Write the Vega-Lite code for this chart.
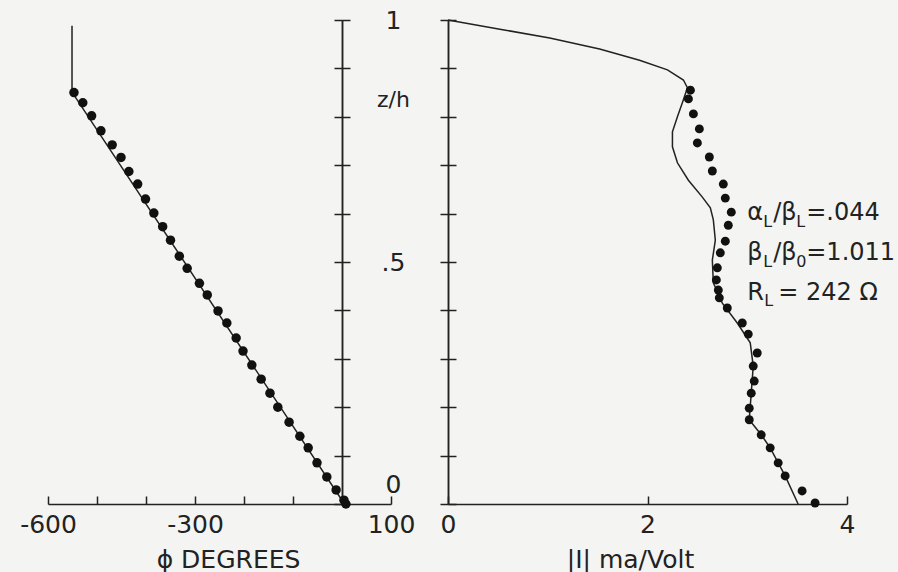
{
  "$schema": "https://vega.github.io/schema/vega-lite/v6.json",
  "background": "#f4f4f2",
  "padding": {"left": 19, "top": 8, "right": 5, "bottom": 5},
  "spacing": 57,
  "bounds": "flush",
  "config": {
    "view": {"stroke": null},
    "font": "DejaVu Sans",
    "axis": {
      "grid": false,
      "domainColor": "#222",
      "tickColor": "#222",
      "labelColor": "#222",
      "titleColor": "#222",
      "domainWidth": 1.5,
      "tickWidth": 1.5,
      "labelFont": "DejaVu Sans",
      "labelFontSize": 25,
      "titleFont": "DejaVu Sans",
      "titleFontSize": 25,
      "titleFontWeight": "normal",
      "labelOverlap": false,
      "labelFlush": false
    },
    "text": {"font": "DejaVu Sans", "color": "#222"}
  },
  "datasets": {
    "phiCurve": [
      {"phi": -551, "z": 0.988},
      {"phi": -551, "z": 0.851},
      {"phi": 5, "z": 0.0}
    ],
    "phiDots": [
      {"phi": -547, "z": 0.850}, {"phi": -529, "z": 0.829}, {"phi": -511, "z": 0.802},
      {"phi": -492, "z": 0.771}, {"phi": -469, "z": 0.742}, {"phi": -451, "z": 0.716},
      {"phi": -435, "z": 0.687}, {"phi": -417, "z": 0.661}, {"phi": -401, "z": 0.630},
      {"phi": -384, "z": 0.601}, {"phi": -366, "z": 0.573}, {"phi": -350, "z": 0.545},
      {"phi": -332, "z": 0.512}, {"phi": -316, "z": 0.487}, {"phi": -291, "z": 0.456},
      {"phi": -275, "z": 0.432}, {"phi": -253, "z": 0.399}, {"phi": -235, "z": 0.374},
      {"phi": -216, "z": 0.343}, {"phi": -202, "z": 0.316}, {"phi": -184, "z": 0.287},
      {"phi": -165, "z": 0.258}, {"phi": -147, "z": 0.229}, {"phi": -131, "z": 0.200},
      {"phi": -108, "z": 0.169}, {"phi": -86, "z": 0.140}, {"phi": -69, "z": 0.116},
      {"phi": -51, "z": 0.085}, {"phi": -31, "z": 0.056}, {"phi": -12, "z": 0.029},
      {"phi": 4, "z": 0.008}, {"phi": 8, "z": 0.0}
    ],
    "iCurve": [
      {"I": 0.0, "z": 1.0}, {"I": 0.52, "z": 0.981}, {"I": 1.02, "z": 0.963},
      {"I": 1.52, "z": 0.940}, {"I": 1.92, "z": 0.917}, {"I": 2.20, "z": 0.897},
      {"I": 2.36, "z": 0.876}, {"I": 2.40, "z": 0.860}, {"I": 2.36, "z": 0.835},
      {"I": 2.30, "z": 0.800}, {"I": 2.25, "z": 0.769}, {"I": 2.25, "z": 0.738},
      {"I": 2.30, "z": 0.705}, {"I": 2.41, "z": 0.669}, {"I": 2.55, "z": 0.634},
      {"I": 2.63, "z": 0.612}, {"I": 2.66, "z": 0.587}, {"I": 2.68, "z": 0.545},
      {"I": 2.65, "z": 0.504}, {"I": 2.66, "z": 0.457}, {"I": 2.75, "z": 0.415},
      {"I": 2.90, "z": 0.374}, {"I": 3.03, "z": 0.333}, {"I": 3.06, "z": 0.285},
      {"I": 3.04, "z": 0.229}, {"I": 3.02, "z": 0.174}, {"I": 3.14, "z": 0.143},
      {"I": 3.23, "z": 0.116}, {"I": 3.38, "z": 0.058}, {"I": 3.51, "z": 0.0}
    ],
    "iDots": [
      {"I": 2.43, "z": 0.855}, {"I": 2.41, "z": 0.837}, {"I": 2.46, "z": 0.806},
      {"I": 2.52, "z": 0.775}, {"I": 2.50, "z": 0.746}, {"I": 2.62, "z": 0.717},
      {"I": 2.65, "z": 0.688}, {"I": 2.76, "z": 0.661}, {"I": 2.78, "z": 0.632},
      {"I": 2.84, "z": 0.603}, {"I": 2.81, "z": 0.576}, {"I": 2.78, "z": 0.543},
      {"I": 2.73, "z": 0.519}, {"I": 2.70, "z": 0.488}, {"I": 2.69, "z": 0.463},
      {"I": 2.71, "z": 0.442}, {"I": 2.72, "z": 0.426}, {"I": 2.80, "z": 0.405},
      {"I": 2.95, "z": 0.374}, {"I": 3.01, "z": 0.351}, {"I": 3.10, "z": 0.312},
      {"I": 3.06, "z": 0.285}, {"I": 3.07, "z": 0.254}, {"I": 3.04, "z": 0.229},
      {"I": 3.02, "z": 0.198}, {"I": 3.02, "z": 0.174}, {"I": 3.14, "z": 0.143},
      {"I": 3.23, "z": 0.116}, {"I": 3.31, "z": 0.085}, {"I": 3.38, "z": 0.058},
      {"I": 3.55, "z": 0.027}, {"I": 3.68, "z": 0.002}
    ]
  },
  "hconcat": [
    {
      "width": 343,
      "height": 484,
      "resolve": {"axis": {"y": "independent"}},
      "layer": [
        {
          "data": {"name": "phiCurve"},
          "mark": {"type": "line", "color": "#222", "strokeWidth": 1.5},
          "encoding": {
            "x": {
              "field": "phi", "type": "quantitative",
              "scale": {"domain": [-600, 100], "nice": false, "zero": false},
              "axis": {
                "orient": "bottom",
                "values": [-600, -500, -400, -300, -200, -100, 0, 100],
                "tickSize": -8,
                "labelPadding": 16,
                "labelExpr": "datum.value==-600?'-600':datum.value==-300?'-300':datum.value==100?'100':''",
                "title": "ϕ DEGREES",
                "titleX": 180,
                "titleAlign": "center",
                "titlePadding": 10
              }
            },
            "y": {
              "field": "z", "type": "quantitative",
              "scale": {"domain": [0, 1], "nice": false, "zero": false},
              "axis": {
                "orient": "right",
                "offset": -49,
                "values": [0, 0.1, 0.2, 0.3, 0.4, 0.5, 0.6, 0.7, 0.8, 0.9, 1],
                "tickSize": 8,
                "labelPadding": 43,
                "labelAlign": "center",
                "labelBaseline": "middle",
                "labelOffset": {"condition": {"test": "datum.value === 0", "value": -20}, "value": 0},
                "labelExpr": "datum.value==1?'1':datum.value==0.5?'.5':datum.value==0?'0':''",
                "title": "z/h",
                "titleAngle": 0,
                "titleX": 51,
                "titleY": 79,
                "titleAlign": "center",
                "titleBaseline": "middle",
                "titleFontSize": 22
              }
            },
            "order": {"field": "z"}
          }
        },
        {
          "data": {"name": "phiDots"},
          "mark": {"type": "point", "filled": true, "size": 90, "color": "#111", "opacity": 1},
          "encoding": {
            "x": {"field": "phi", "type": "quantitative"},
            "y": {
              "field": "z", "type": "quantitative",
              "axis": {
                "orient": "left",
                "offset": -294,
                "values": [0, 0.1, 0.2, 0.3, 0.4, 0.5, 0.6, 0.7, 0.8, 0.9, 1],
                "tickSize": 8,
                "labels": false,
                "title": null
              }
            }
          }
        }
      ]
    },
    {
      "width": 399,
      "height": 484,
      "resolve": {"axis": {"y": "independent"}},
      "layer": [
        {
          "data": {"name": "iCurve"},
          "mark": {"type": "line", "color": "#222", "strokeWidth": 1.5},
          "encoding": {
            "x": {
              "field": "I", "type": "quantitative",
              "scale": {"domain": [0, 4], "nice": false, "zero": false},
              "axis": {
                "orient": "bottom",
                "values": [0, 2, 4],
                "format": "d",
                "tickSize": -8,
                "labelPadding": 16,
                "title": "|I| ma/Volt",
                "titleX": 182,
                "titleAlign": "center",
                "titlePadding": 10
              }
            },
            "y": {
              "field": "z", "type": "quantitative",
              "scale": {"domain": [0, 1], "nice": false, "zero": false},
              "axis": {
                "orient": "left",
                "values": [0, 0.1, 0.2, 0.3, 0.4, 0.5, 0.6, 0.7, 0.8, 0.9, 1],
                "tickSize": 8,
                "labels": false,
                "title": null
              }
            },
            "order": {"field": "z"}
          }
        },
        {
          "data": {"name": "iDots"},
          "mark": {"type": "point", "filled": true, "size": 80, "color": "#111", "opacity": 1},
          "encoding": {
            "x": {"field": "I", "type": "quantitative"},
            "y": {
              "field": "z", "type": "quantitative",
              "axis": {
                "orient": "right",
                "offset": -399,
                "values": [0, 0.1, 0.2, 0.3, 0.4, 0.5, 0.6, 0.7, 0.8, 0.9, 1],
                "tickSize": 8,
                "labels": false,
                "title": null
              }
            }
          }
        },
        {
          "data": {"values": [{"t": "α"}]},
          "mark": {"type": "text", "align": "left", "baseline": "alphabetic", "fontSize": 24, "dx": 0},
          "encoding": {"x": {"datum": 3.0, "type": "quantitative"}, "y": {"datum": 0.587, "type": "quantitative", "axis": null}, "text": {"field": "t"}}
        },
        {
          "data": {"values": [{"t": "L"}]},
          "mark": {"type": "text", "align": "left", "baseline": "alphabetic", "fontSize": 16, "dx": 16, "dy": 7},
          "encoding": {"x": {"datum": 3.0, "type": "quantitative"}, "y": {"datum": 0.587, "type": "quantitative", "axis": null}, "text": {"field": "t"}}
        },
        {
          "data": {"values": [{"t": "/β"}]},
          "mark": {"type": "text", "align": "left", "baseline": "alphabetic", "fontSize": 24, "dx": 26},
          "encoding": {"x": {"datum": 3.0, "type": "quantitative"}, "y": {"datum": 0.587, "type": "quantitative", "axis": null}, "text": {"field": "t"}}
        },
        {
          "data": {"values": [{"t": "L"}]},
          "mark": {"type": "text", "align": "left", "baseline": "alphabetic", "fontSize": 16, "dx": 49, "dy": 7},
          "encoding": {"x": {"datum": 3.0, "type": "quantitative"}, "y": {"datum": 0.587, "type": "quantitative", "axis": null}, "text": {"field": "t"}}
        },
        {
          "data": {"values": [{"t": "=.044"}]},
          "mark": {"type": "text", "align": "left", "baseline": "alphabetic", "fontSize": 24, "dx": 59},
          "encoding": {"x": {"datum": 3.0, "type": "quantitative"}, "y": {"datum": 0.587, "type": "quantitative", "axis": null}, "text": {"field": "t"}}
        },
        {
          "data": {"values": [{"t": "β"}]},
          "mark": {"type": "text", "align": "left", "baseline": "alphabetic", "fontSize": 24, "dx": 0},
          "encoding": {"x": {"datum": 3.0, "type": "quantitative"}, "y": {"datum": 0.504, "type": "quantitative", "axis": null}, "text": {"field": "t"}}
        },
        {
          "data": {"values": [{"t": "L"}]},
          "mark": {"type": "text", "align": "left", "baseline": "alphabetic", "fontSize": 16, "dx": 16, "dy": 7},
          "encoding": {"x": {"datum": 3.0, "type": "quantitative"}, "y": {"datum": 0.504, "type": "quantitative", "axis": null}, "text": {"field": "t"}}
        },
        {
          "data": {"values": [{"t": "/β"}]},
          "mark": {"type": "text", "align": "left", "baseline": "alphabetic", "fontSize": 24, "dx": 26},
          "encoding": {"x": {"datum": 3.0, "type": "quantitative"}, "y": {"datum": 0.504, "type": "quantitative", "axis": null}, "text": {"field": "t"}}
        },
        {
          "data": {"values": [{"t": "0"}]},
          "mark": {"type": "text", "align": "left", "baseline": "alphabetic", "fontSize": 16, "dx": 49, "dy": 7},
          "encoding": {"x": {"datum": 3.0, "type": "quantitative"}, "y": {"datum": 0.504, "type": "quantitative", "axis": null}, "text": {"field": "t"}}
        },
        {
          "data": {"values": [{"t": "=1.011"}]},
          "mark": {"type": "text", "align": "left", "baseline": "alphabetic", "fontSize": 24, "dx": 59},
          "encoding": {"x": {"datum": 3.0, "type": "quantitative"}, "y": {"datum": 0.504, "type": "quantitative", "axis": null}, "text": {"field": "t"}}
        },
        {
          "data": {"values": [{"t": "R"}]},
          "mark": {"type": "text", "align": "left", "baseline": "alphabetic", "fontSize": 24, "dx": 0},
          "encoding": {"x": {"datum": 3.0, "type": "quantitative"}, "y": {"datum": 0.4215, "type": "quantitative", "axis": null}, "text": {"field": "t"}}
        },
        {
          "data": {"values": [{"t": "L"}]},
          "mark": {"type": "text", "align": "left", "baseline": "alphabetic", "fontSize": 16, "dx": 17, "dy": 6},
          "encoding": {"x": {"datum": 3.0, "type": "quantitative"}, "y": {"datum": 0.4215, "type": "quantitative", "axis": null}, "text": {"field": "t"}}
        },
        {
          "data": {"values": [{"t": "= 242 Ω"}]},
          "mark": {"type": "text", "align": "left", "baseline": "alphabetic", "fontSize": 24, "dx": 31},
          "encoding": {"x": {"datum": 3.0, "type": "quantitative"}, "y": {"datum": 0.4215, "type": "quantitative", "axis": null}, "text": {"field": "t"}}
        }
      ]
    }
  ]
}
